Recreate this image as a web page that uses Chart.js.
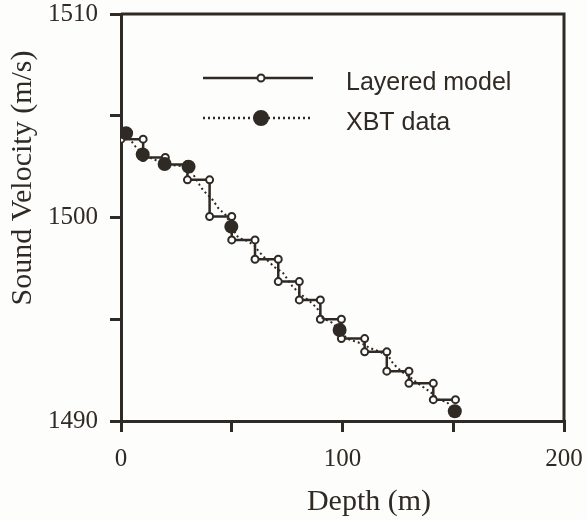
<!DOCTYPE html>
<html>
<head>
<meta charset="utf-8">
<script src="https://cdn.jsdelivr.net/npm/chart.js@4.4.1/dist/chart.umd.min.js"></script>
<style>
  body { margin: 0; background: #fdfdfb; }
  canvas { display: block; }
</style>
</head>
<body>
<canvas id="soundChart" width="587" height="520"></canvas>
<script>
// layer boundaries (m) and the velocity inside each layer (m/s)
const layerDepths = [0, 10, 20, 30, 40, 50, 60.5, 71, 80.5, 90, 99.5, 110, 120, 130, 141, 151];
const layerVelocities = [1503.85, 1502.95, 1502.6, 1501.85, 1500.05, 1498.9, 1497.95, 1496.85,
  1495.95, 1495.0, 1494.05, 1493.4, 1492.45, 1491.85, 1491.05];

// XBT profile
const xbtDepths = [2.3, 6, 9.8, 15, 19.7, 25, 30.5, 33, 35.5, 37, 41.5, 44, 47.5, 49.8,
  53, 57, 60.5, 62, 66, 69.5, 73, 77.5, 81, 85, 88.5, 91, 95, 98.7,
  102, 106, 110, 112, 117, 121, 123, 127, 130.5, 134, 138, 140.5, 144, 147, 150.7];
const xbtVelocities = [1504.14, 1503.55, 1503.1, 1502.85, 1502.63, 1502.55, 1502.5, 1502.05, 1501.6, 1501.35, 1500.85, 1500.45, 1500.1, 1499.55,
  1499.0, 1498.85, 1498.6, 1498.35, 1497.9, 1497.55, 1497.3, 1496.6, 1496.25, 1495.9, 1495.55, 1495.05, 1494.85, 1494.47,
  1494.05, 1493.9, 1493.75, 1493.6, 1493.4, 1493.15, 1492.8, 1492.4, 1492.15, 1491.85, 1491.55, 1491.35, 1491.0, 1490.95, 1490.48];
// depths where the XBT marker is drawn
const xbtMarkedDepths = [2.3, 9.8, 19.7, 30.5, 49.8, 98.7, 150.7];

const depthTicks = [0, 100, 200];
const velocityTicks = [1490, 1500, 1510];

const ink = "#302a25";
const serif = "'Liberation Serif', 'Times New Roman', serif";
const sans = "'Liberation Sans', Arial, sans-serif";

const layered = [];
layerVelocities.forEach((v, i) => {
  layered.push({ x: layerDepths[i], y: v });
  layered.push({ x: layerDepths[i + 1], y: v });
});
const xbt = xbtDepths.map((d, i) => ({ x: d, y: xbtVelocities[i] }));

// frame, axis titles and the legend
const decor = {
  id: "decor",
  afterDraw(chart) {
    const { ctx, chartArea: a } = chart;
    ctx.save();
    ctx.strokeStyle = ink;
    ctx.lineWidth = 3;
    ctx.beginPath();
    ctx.moveTo(a.left, a.top);
    ctx.lineTo(a.right, a.top);
    ctx.lineTo(a.right, a.bottom);
    ctx.stroke();

    ctx.fillStyle = ink;
    ctx.font = "30px " + serif;
    ctx.textAlign = "center";
    ctx.textBaseline = "alphabetic";
    ctx.fillText("Depth (m)", 369, 510);
    ctx.save();
    ctx.translate(31, 178);
    ctx.rotate(-Math.PI / 2);
    ctx.fillText("Sound Velocity (m/s)", 0, 0);
    ctx.restore();

    // legend
    const rows = [
      { ds: chart.data.datasets[0], y: 78, dash: [], r: 3.5, fill: "#fff" },
      { ds: chart.data.datasets[1], y: 118, dash: [2, 3], r: 7, fill: ink },
    ];
    rows.forEach((row) => {
      ctx.setLineDash(row.dash);
      ctx.lineWidth = 2.5;
      ctx.beginPath();
      ctx.moveTo(203, row.y);
      ctx.lineTo(313, row.y);
      ctx.stroke();
      ctx.setLineDash([]);
      ctx.beginPath();
      ctx.arc(261, row.y, row.r, 0, Math.PI * 2);
      ctx.fillStyle = row.fill;
      ctx.fill();
      ctx.lineWidth = 2;
      ctx.stroke();
      ctx.fillStyle = ink;
      ctx.font = "25px " + sans;
      ctx.textAlign = "left";
      ctx.fillText(row.ds.label, 346, row.y + 12);
    });
    ctx.restore();
  },
};

new Chart(document.getElementById("soundChart"), {
  type: "scatter",
  data: {
    datasets: [
      {
        label: "Layered model",
        data: layered,
        showLine: true,
        borderColor: ink,
        borderWidth: 2.5,
        pointRadius: 3.5,
        pointBackgroundColor: "#fff",
        pointBorderColor: ink,
        pointBorderWidth: 2,
        order: 2,
      },
      {
        label: "XBT data",
        data: xbt,
        showLine: true,
        borderColor: ink,
        borderWidth: 2,
        borderDash: [2, 3],
        pointRadius: (c) => (c.raw && xbtMarkedDepths.includes(c.raw.x) ? 7 : 0),
        pointBackgroundColor: ink,
        pointBorderColor: ink,
        pointBorderWidth: 0,
        order: 1,
      },
    ],
  },
  options: {
    responsive: false,
    animation: false,
    layout: { padding: { top: 14, right: 23, left: 0, bottom: 0 } },
    plugins: { legend: { display: false }, tooltip: { enabled: false } },
    scales: {
      x: {
        type: "linear",
        min: 0,
        max: 200,
        afterFit: (s) => {
          s.height = 99;
          s.paddingLeft = 0;
          s.paddingRight = 0;
        },
        ticks: {
          stepSize: 50,
          color: ink,
          padding: 12,
          font: { family: serif, size: 25 },
          maxRotation: 0,
          callback: (v) => (depthTicks.includes(v) ? String(v) : ""),
        },
        grid: { drawOnChartArea: false, tickLength: 11, color: ink, lineWidth: 3 },
        border: { color: ink, width: 3 },
      },
      y: {
        min: 1490,
        max: 1510,
        afterFit: (s) => {
          s.width = 121;
          s.paddingTop = 0;
          s.paddingBottom = 0;
        },
        ticks: {
          stepSize: 5,
          color: ink,
          padding: 12,
          font: { family: serif, size: 25 },
          callback: (v) => (velocityTicks.includes(v) ? String(v) : ""),
        },
        grid: { drawOnChartArea: false, tickLength: 11, color: ink, lineWidth: 3 },
        border: { color: ink, width: 3 },
      },
    },
  },
  plugins: [decor],
});
</script>
</body>
</html>
